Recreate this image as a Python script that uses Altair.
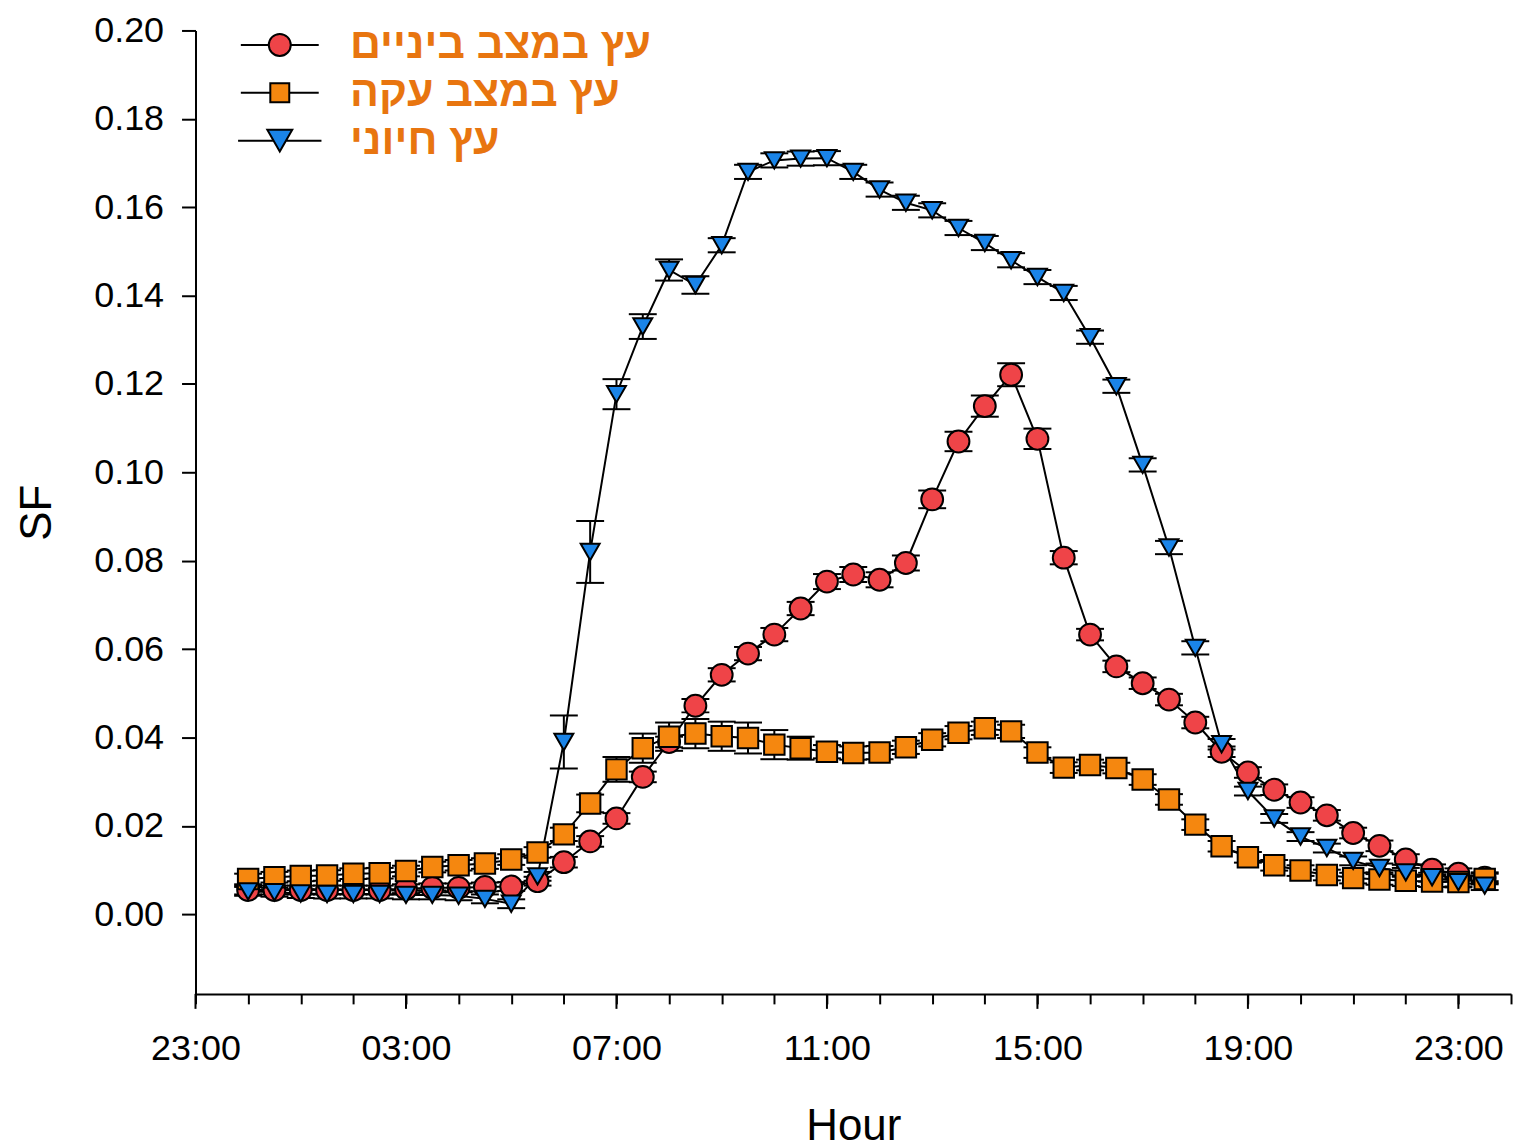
import altair as alt
import pandas as pd

# ---------------- data ----------------
TIMES = ["00:00", "00:30", "01:00", "01:30", "02:00", "02:30", "03:00", "03:30",
         "04:00", "04:30", "05:00", "05:30", "06:00", "06:30", "07:00", "07:30",
         "08:00", "08:30", "09:00", "09:30", "10:00", "10:30", "11:00", "11:30",
         "12:00", "12:30", "13:00", "13:30", "14:00", "14:30", "15:00", "15:30",
         "16:00", "16:30", "17:00", "17:30", "18:00", "18:30", "19:00", "19:30",
         "20:00", "20:30", "21:00", "21:30", "22:00", "22:30", "23:00", "23:30"]

SERIES = ["עץ במצב ביניים", "עץ במצב עקה", "עץ חיוני"]

RED_SF = [0.0055, 0.0055, 0.0055, 0.0055, 0.0055, 0.0055, 0.0058, 0.0060,
          0.0060, 0.0062, 0.0063, 0.0075, 0.0118, 0.0165, 0.0217, 0.0311,
          0.0390, 0.0472, 0.0542, 0.0590, 0.0633, 0.0692, 0.0753, 0.0769,
          0.0757, 0.0795, 0.0939, 0.1070, 0.1150, 0.1221, 0.1076, 0.0807,
          0.0633, 0.0561, 0.0523, 0.0486, 0.0434, 0.0368, 0.0321, 0.0282,
          0.0253, 0.0224, 0.0184, 0.0155, 0.0124, 0.0101, 0.0092, 0.0083]
RED_SE = [0.0010, 0.0010, 0.0010, 0.0010, 0.0010, 0.0010, 0.0010, 0.0010,
          0.0010, 0.0010, 0.0010, 0.0010, 0.0012, 0.0012, 0.0012, 0.0012,
          0.0012, 0.0015, 0.0015, 0.0015, 0.0015, 0.0015, 0.0017, 0.0017,
          0.0017, 0.0017, 0.0020, 0.0022, 0.0024, 0.0026, 0.0023, 0.0015,
          0.0013, 0.0013, 0.0013, 0.0013, 0.0013, 0.0012, 0.0012, 0.0012,
          0.0012, 0.0012, 0.0012, 0.0012, 0.0012, 0.0012, 0.0012, 0.0012]

ORANGE_SF = [0.0080, 0.0084, 0.0087, 0.0088, 0.0092, 0.0093, 0.0098, 0.0107,
             0.0111, 0.0115, 0.0124, 0.0140, 0.0181, 0.0251, 0.0328, 0.0376,
             0.0402, 0.0409, 0.0403, 0.0399, 0.0384, 0.0376, 0.0368, 0.0365,
             0.0366, 0.0378, 0.0395, 0.0411, 0.0421, 0.0414, 0.0366, 0.0332,
             0.0338, 0.0331, 0.0305, 0.0260, 0.0203, 0.0154, 0.0129, 0.0111,
             0.0099, 0.0089, 0.0082, 0.0079, 0.0076, 0.0074, 0.0073, 0.0080]
ORANGE_SE = [0.0012, 0.0012, 0.0012, 0.0012, 0.0012, 0.0012, 0.0012, 0.0012,
             0.0012, 0.0012, 0.0012, 0.0012, 0.0015, 0.0020, 0.0028, 0.0033,
             0.0032, 0.0033, 0.0033, 0.0035, 0.0033, 0.0026, 0.0015, 0.0015,
             0.0015, 0.0015, 0.0015, 0.0015, 0.0015, 0.0015, 0.0012, 0.0012,
             0.0012, 0.0012, 0.0012, 0.0012, 0.0012, 0.0012, 0.0012, 0.0012,
             0.0012, 0.0012, 0.0012, 0.0012, 0.0012, 0.0012, 0.0012, 0.0012]

BLUE_SF = [0.0052, 0.0050, 0.0047, 0.0046, 0.0046, 0.0046, 0.0044, 0.0044,
           0.0042, 0.0035, 0.0024, 0.0086, 0.0390, 0.0820, 0.1177, 0.1330,
           0.1458, 0.1424, 0.1514, 0.1680, 0.1706, 0.1710, 0.1711, 0.1680,
           0.1640, 0.1610, 0.1593, 0.1553, 0.1519, 0.1480, 0.1442, 0.1406,
           0.1306, 0.1195, 0.1017, 0.0830, 0.0603, 0.0385, 0.0279, 0.0217,
           0.0176, 0.0150, 0.0121, 0.0105, 0.0095, 0.0084, 0.0073, 0.0065]
BLUE_SE = [0.0010, 0.0010, 0.0010, 0.0010, 0.0010, 0.0010, 0.0010, 0.0010,
           0.0010, 0.0010, 0.0010, 0.0010, 0.0060, 0.0070, 0.0034, 0.0028,
           0.0024, 0.0020, 0.0016, 0.0016, 0.0016, 0.0016, 0.0016, 0.0016,
           0.0016, 0.0016, 0.0016, 0.0016, 0.0016, 0.0016, 0.0016, 0.0016,
           0.0015, 0.0015, 0.0015, 0.0015, 0.0015, 0.0012, 0.0010, 0.0010,
           0.0010, 0.0010, 0.0010, 0.0010, 0.0010, 0.0010, 0.0010, 0.0010]

# x axis: hours counted from 23:00 of the previous day
HOUR_TICKS = list(range(0, 26))
MAJOR_TICKS = [0, 4, 8, 12, 16, 20, 24]
MAJOR_LABELS = ["23:00", "03:00", "07:00", "11:00", "15:00", "19:00", "23:00"]
Y_TICKS = [0.00, 0.02, 0.04, 0.06, 0.08, 0.10, 0.12, 0.14, 0.16, 0.18, 0.20]

# ---------------- styles ----------------
COLORS = ["#EF4448", "#F5870F", "#1A84E8"]
SHAPES = ["circle", "square", "triangle-down"]
SIZES = [480, 361, 680]
LEGEND_PATHS = [
    "M-3.55,0H-1M1,0H3.55M1,0A1,1,0,1,1,-1,0A1,1,0,1,1,1,0Z",
    "M-3.55,0H-0.864M0.864,0H3.55M-0.864,-0.864H0.864V0.864H-0.864Z",
    "M-3.8,0H-0.568M0.568,0H3.8M-1.136,-0.984H1.136L0,0.984Z",
]
LEGEND_COLOR = "#E8750F"
FONT = "Liberation Sans, Arial, sans-serif"
W, H = 1319, 966


def to_hour(t):
    hh, mm = t.split(":")
    return int(hh) + 1 + int(mm) / 60.0


rows = []
for name, vals, errs in zip(SERIES, [RED_SF, ORANGE_SF, BLUE_SF],
                            [RED_SE, ORANGE_SE, BLUE_SE]):
    for t, v, e in zip(TIMES, vals, errs):
        rows.append({"series": name, "time": t, "hour": to_hour(t),
                     "sf": v, "lo": v - e, "hi": v + e})
df = pd.DataFrame(rows)

label_expr = "''"
for pos, lab in zip(reversed(MAJOR_TICKS), reversed(MAJOR_LABELS)):
    label_expr = f"datum.value == {pos} ? '{lab}' : ({label_expr})"

x_enc = alt.X("hour:Q",
              scale=alt.Scale(domain=[0, 25], nice=False, zero=False),
              axis=alt.Axis(values=HOUR_TICKS, labelExpr=label_expr,
                            tickSize=10, tickWidth=2, tickColor="black",
                            domainColor="black", domainWidth=2,
                            labelFont=FONT, labelFontSize=36, labelColor="black",
                            labelPadding=28, labelFlush=False, labelOverlap=False,
                            title="Hour", titleFont=FONT, titleFontSize=44,
                            titleFontWeight="normal", titleColor="black",
                            titlePadding=38, grid=False))
y_scale = alt.Scale(domain=[-0.018, 0.20], nice=False, zero=False)
y_enc = alt.Y("sf:Q", scale=y_scale,
              axis=alt.Axis(values=Y_TICKS, format=".2f",
                            tickSize=14, tickWidth=2, tickColor="black",
                            domainColor="black", domainWidth=2,
                            labelFont=FONT, labelFontSize=36, labelColor="black",
                            labelPadding=18, labelFlush=False,
                            title="SF", titleFont=FONT, titleFontSize=44,
                            titleFontWeight="normal", titleColor="black",
                            titlePadding=34, grid=False))

base = alt.Chart(df)

lines = base.mark_line(color="black", strokeWidth=2).encode(
    x=x_enc, y=y_enc, detail="series:N", order="hour:Q")

err_rule = base.mark_rule(color="black", strokeWidth=2).encode(
    x="hour:Q", y=alt.Y("lo:Q", scale=y_scale), y2="hi:Q")
cap_lo = base.mark_tick(orient="horizontal", size=28, thickness=2,
                        color="black", opacity=1).encode(
    x="hour:Q", y=alt.Y("lo:Q", scale=y_scale))
cap_hi = base.mark_tick(orient="horizontal", size=28, thickness=2,
                        color="black", opacity=1).encode(
    x="hour:Q", y=alt.Y("hi:Q", scale=y_scale))

points = base.mark_point(filled=True, stroke="black", strokeWidth=2,
                         opacity=1).encode(
    x="hour:Q", y=alt.Y("sf:Q", scale=y_scale),
    fill=alt.Fill("series:N", scale=alt.Scale(domain=SERIES, range=COLORS),
                  legend=None),
    shape=alt.Shape("series:N", scale=alt.Scale(domain=SERIES, range=SHAPES),
                    legend=None),
    size=alt.Size("series:N", scale=alt.Scale(domain=SERIES, range=SIZES),
                  legend=None),
)

major = alt.Chart(pd.DataFrame({"h": MAJOR_TICKS})).mark_rule(
    color="black", strokeWidth=2).encode(
    x="h:Q", y=alt.value(H), y2=alt.value(H + 15))

leg = alt.Legend(title=None, orient="none", legendX=63, legendY=-7,
                 symbolSize=484, symbolStrokeColor="black",
                 symbolStrokeWidth=2, symbolOpacity=1,
                 labelFont=FONT, labelFontSize=43, labelFontWeight="bold",
                 labelColor=LEGEND_COLOR, labelOffset=49, rowPadding=4,
                 labelLimit=700)
legend_layer = base.mark_point(filled=True, strokeWidth=2, opacity=1).encode(
    fill=alt.Fill("series:N", scale=alt.Scale(domain=SERIES, range=COLORS),
                  legend=leg),
    stroke=alt.Stroke("series:N",
                      scale=alt.Scale(domain=SERIES,
                                      range=["black", "black", "black"]),
                      legend=leg),
    shape=alt.Shape("series:N",
                    scale=alt.Scale(domain=SERIES, range=LEGEND_PATHS),
                    legend=leg),
).transform_filter("false")

chart = alt.layer(lines, err_rule, cap_lo, cap_hi, points, major,
                  legend_layer).resolve_scale(
    fill="independent", shape="independent", size="independent",
    stroke="independent"
).properties(
    width=W, height=H,
    autosize=alt.AutoSizeParams(type="none"),
    padding={"left": 188, "top": 21, "right": 5, "bottom": 153},
).configure_view(stroke=None)

chart.save("out.html", embed_options={"renderer": "svg", "actions": False})
